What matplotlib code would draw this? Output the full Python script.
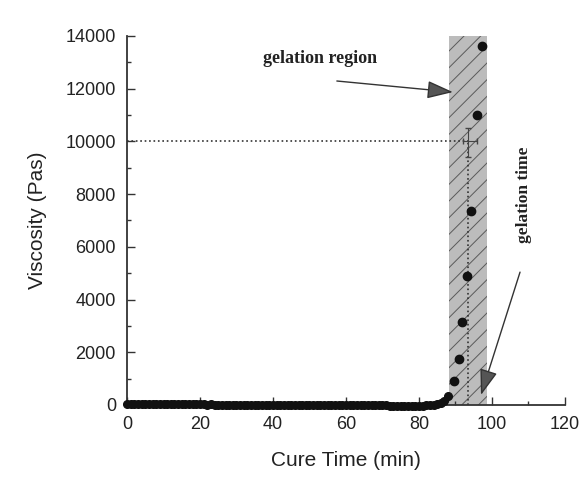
import matplotlib.pyplot as plt
from matplotlib.ticker import MultipleLocator

plt.rcParams['font.family'] = ['Liberation Sans', 'DejaVu Sans']
plt.rcParams['hatch.linewidth'] = 0.7

# flat part of the cure curve (min, Pas)
time_flat = [0, 1, 2, 3, 4, 5, 6, 7, 8, 9, 10, 11, 12, 13, 14, 15, 16, 17, 18, 19,
             20, 21, 22, 23, 24, 25, 26, 27, 28, 29, 30, 31, 32, 33, 34, 35, 36, 37, 38, 39,
             40, 41, 42, 43, 44, 45, 46, 47, 48, 49, 50, 51, 52, 53, 54, 55, 56, 57, 58, 59,
             60, 61, 62, 63, 64, 65, 66, 67, 68, 69, 70, 71, 72, 73, 74, 75, 76, 77, 78, 79,
             80, 81, 82, 83, 84, 85, 86, 87, 88]
visc_flat = [20, 20, 30, 20, 30, 30, 20, 30, 30, 30, 40, 30, 30, 40, 30, 40, 30, 30, 20, 20,
             20, 20, 10, 20, 10, 10, 10, 10, 0, 10, 0, 10, 0, 0, 10, 0, 0, 0, 0, 0,
             0, 0, 0, 0, 0, 0, 0, 0, 0, 0, 0, 0, 0, 0, 0, 0, 0, 0, 0, 0,
             0, 0, 0, 0, 0, 0, 0, 0, -10, -10, -10, -10, -20, -20, -20, -20, -20, -20, -20, -20,
             -20, -20, -10, 0, 10, 30, 70, 150, 350]

# rising part after gelation starts
time_rise = [89.7, 91.0, 91.9, 93.1, 94.2, 95.8, 97.2]
visc_rise = [910, 1730, 3140, 4900, 7360, 11000, 13620]

gel_region = [88.2, 98.6]
gel_time = 93.5
gel_visc = 10000

fig, ax = plt.subplots(figsize=(5.8, 4.79), dpi=100)
fig.subplots_adjust(left=0.219, right=0.974, bottom=0.1545, top=0.925)

# gelation band
ax.axvspan(gel_region[0], gel_region[1], ymin=0, ymax=1, facecolor='#bcbcbc',
           edgecolor='#5a5a5a', hatch='//', linewidth=0, zorder=1)

ax.plot(time_flat, visc_flat, 'o', color='#111111', markersize=5.5, clip_on=False, zorder=3)
ax.plot(time_rise, visc_rise, 'o', color='#111111', markersize=6, clip_on=False, zorder=3)

# 10000 Pas line and gelation time
ax.plot([0, gel_time], [gel_visc, gel_visc], ':', color='#333333', linewidth=1.2, zorder=2)
ax.plot([gel_time, gel_time], [0, gel_visc], ':', color='#333333', linewidth=1.2, zorder=2)
ax.errorbar([gel_time], [gel_visc], xerr=[[1.5], [2.5]], yerr=[[600], [500]],
            fmt='none', ecolor='#444444', elinewidth=0.8, capsize=2, zorder=2)

arrow = dict(arrowstyle='-|>,head_length=1.6,head_width=0.55',
             facecolor='#555555', edgecolor='#333333', lw=1, shrinkA=0, shrinkB=0)
ax.text(37.3, 13160, 'gelation region', fontsize=13, fontweight='bold',
        family='Liberation Serif', color='#222222', ha='left', va='center')
ax.annotate('', xy=(89.3, 11870), xytext=(57.5, 12290), arrowprops=arrow)
ax.annotate('', xy=(97, 380), xytext=(107.7, 5040), arrowprops=arrow)
ax.text(108.9, 7970, 'gelation time', rotation=90, fontsize=12.5, fontweight='bold',
        family='Liberation Serif', color='#222222', ha='center', va='center')

ax.set_xlim(0, 120)
ax.set_ylim(0, 14000)
ax.xaxis.set_major_locator(MultipleLocator(20))
ax.xaxis.set_minor_locator(MultipleLocator(10))
ax.yaxis.set_major_locator(MultipleLocator(2000))
ax.yaxis.set_minor_locator(MultipleLocator(1000))
ax.tick_params(which='both', direction='in', color='#333333', width=1)
ax.tick_params(which='major', length=6, labelsize=13, labelcolor='#222222', pad=8)
ax.tick_params(which='minor', length=3)

for s in ['top', 'right']:
    ax.spines[s].set_visible(False)
for s in ['left', 'bottom']:
    ax.spines[s].set_linewidth(1.3)
    ax.spines[s].set_color('#333333')

ax.set_xlabel('Cure Time (min)', fontsize=15, color='#222222', labelpad=13)
ax.set_ylabel('Viscosity (Pas)', fontsize=15, color='#222222', labelpad=13)

fig.savefig('out.png', dpi=100)
